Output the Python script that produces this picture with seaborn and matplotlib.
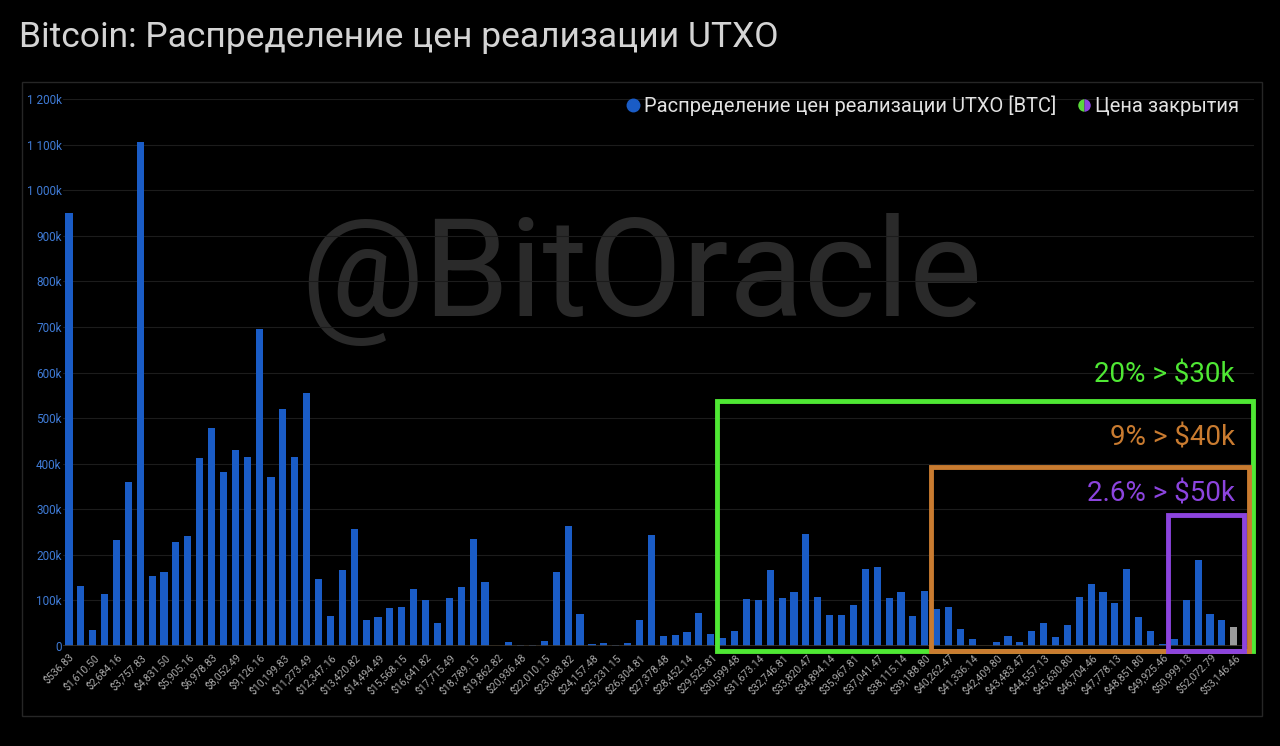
import matplotlib.pyplot as plt
import seaborn as sns
from matplotlib.lines import Line2D
from matplotlib.patches import Rectangle
from matplotlib.ticker import FuncFormatter, MultipleLocator

# realized price bins (every other one is labelled on the axis)
TICK_LABELS = [
    "$536.83", "$1,610.50", "$2,684.16", "$3,757.83", "$4,831.50", "$5,905.16",
    "$6,978.83", "$8,052.49", "$9,126.16", "$10,199.83", "$11,273.49", "$12,347.16",
    "$13,420.82", "$14,494.49", "$15,568.15", "$16,641.82", "$17,715.49", "$18,789.15",
    "$19,862.82", "$20,936.48", "$22,010.15", "$23,083.82", "$24,157.48", "$25,231.15",
    "$26,304.81", "$27,378.48", "$28,452.14", "$29,525.81", "$30,599.48", "$31,673.14",
    "$32,746.81", "$33,820.47", "$34,894.14", "$35,967.81", "$37,041.47", "$38,115.14",
    "$39,188.80", "$40,262.47", "$41,336.14", "$42,409.80", "$43,483.47", "$44,557.13",
    "$45,630.80", "$46,704.46", "$47,778.13", "$48,851.80", "$49,925.46", "$50,999.13",
    "$52,072.79", "$53,146.46",
]

# UTXO supply per bin, thousands of BTC
UTXO_K = [
    950, 132, 35, 114, 232, 360, 1105, 154, 163, 228,
    242, 412, 478, 382, 429, 415, 696, 371, 521, 415,
    556, 148, 66, 167, 256, 58, 64, 83, 85, 126,
    100, 50, 105, 130, 234, 140, 0, 8, 3, 3,
    10, 162, 263, 70, 5, 6, 3, 6, 56, 244,
    21, 25, 30, 72, 27, 17, 33, 104, 100, 166,
    106, 119, 245, 108, 69, 67, 90, 168, 174, 106,
    119, 65, 121, 82, 86, 37, 15, 1, 9, 23,
    9, 34, 50, 19, 47, 108, 137, 119, 94, 170,
    63, 34, 4, 15, 100, 188, 70, 56, 41,
]
CURRENT_BIN = 98  # bin holding the closing price

# share of supply above a level: (text, first bin, box top in k, colour)
ZONES = [
    ("20% > $30k", 55, 537, "#4fe834"),
    ("9% > $40k", 73, 392, "#c97b30"),
    ("2.6% > $50k", 93, 287, "#8c44de"),
]
ZONE_TEXT_K = [594, 456, 333]
ZONE_RIGHT = [99.6, 99.3, 98.9]

BAR_BLUE = "#1a5cc6"
BG = "#000000"


def draw_bars(ax) -> None:
    idx = list(range(len(UTXO_K)))
    values = [v * 1000 for v in UTXO_K]
    palette = {i: ("#9a9a9a" if i == CURRENT_BIN else BAR_BLUE) for i in idx}
    sns.barplot(x=idx, y=values, hue=idx, palette=palette, legend=False,
                width=0.6, saturation=1, linewidth=0, ax=ax, native_scale=True)


def style_axes(ax) -> None:
    ax.set_facecolor(BG)
    ax.set_xlim(-0.5, 99.7)
    ax.set_ylim(0, 1_200_000)
    ax.yaxis.set_major_locator(MultipleLocator(100_000))
    ax.yaxis.set_major_formatter(FuncFormatter(
        lambda v, _: "0" if v == 0 else f"{v / 1000:,.0f}k".replace(",", " ")))
    ax.grid(axis="y", color="#1c1c1c", lw=0.8)
    ax.grid(axis="x", visible=False)
    ax.set_axisbelow(True)
    ax.axhline(0, color="#3a3328", lw=1.2, zorder=1)
    for s in ax.spines.values():
        s.set_visible(False)
    ax.set_xticks(range(0, 2 * len(TICK_LABELS), 2))
    ax.set_xticklabels(TICK_LABELS, rotation=45, ha="right", rotation_mode="anchor",
                       fontsize=7.5, color="#a8a8a8")
    ax.tick_params(axis="y", labelsize=8.5, labelcolor="#3f7bd6", length=0, pad=1)
    ax.tick_params(axis="x", length=0, pad=4)
    ax.set_xlabel("")
    ax.set_ylabel("")


def draw_zones(ax) -> None:
    for (text, first, top_k, color), text_k, right in zip(ZONES, ZONE_TEXT_K, ZONE_RIGHT):
        left = first - 0.5
        bottom = -12_000
        ax.add_patch(Rectangle((left, bottom), right - left, top_k * 1000 - bottom,
                               fill=False, edgecolor=color, lw=3.5, clip_on=False, zorder=5))
        ax.text(98.1, text_k * 1000, text, ha="right", va="center", color=color,
                fontsize=20, family="Roboto", zorder=6)


def draw_legend(ax) -> None:
    handles = [
        Line2D([], [], marker="o", ls="", markersize=9, color=BAR_BLUE),
        Line2D([], [], marker="o", ls="", markersize=9, fillstyle="left",
               markerfacecolor="#5ad83a", markerfacecoloralt="#8c44de", markeredgewidth=0),
    ]
    leg = ax.legend(handles, ["Распределение цен реализации UTXO [BTC]", "Цена закрытия"],
                    loc="upper right", bbox_to_anchor=(1.003, 1.04), ncol=2, frameon=False,
                    handletextpad=0.05, columnspacing=0.9, handlelength=1.0,
                    prop={"family": "Roboto", "size": 14.5})
    for t in leg.get_texts():
        t.set_color("#e2e2e2")


def main() -> None:
    sns.set_theme(style="dark")
    plt.rcParams["font.family"] = ["Roboto", "DejaVu Sans"]

    fig = plt.figure(figsize=(12.8, 7.46), dpi=100, facecolor=BG)
    fig.patches.append(Rectangle((22 / 1280, 30 / 746), 1240 / 1280, 634 / 746,
                                 transform=fig.transFigure, fill=False,
                                 edgecolor="#262626", lw=1))
    fig.text(19 / 1280, 1 - 38 / 746, "Bitcoin: Распределение цен реализации UTXO",
             color="#d4d4d4", fontsize=25.5, va="center", ha="left", family="Roboto")

    ax = fig.add_axes([63 / 1280, 100 / 746, 1191 / 1280, 547 / 746])
    ax.text(641 / 1280, 1 - 279 / 746, "@BitOracle", color="#2a2a2a", fontsize=99,
            ha="center", va="center", family="Roboto", zorder=0.5,
            transform=fig.transFigure)
    draw_bars(ax)
    style_axes(ax)
    ax.patch.set_alpha(0)
    draw_zones(ax)
    draw_legend(ax)

    fig.savefig("out.png", dpi=100, facecolor=BG)


if __name__ == "__main__":
    main()
